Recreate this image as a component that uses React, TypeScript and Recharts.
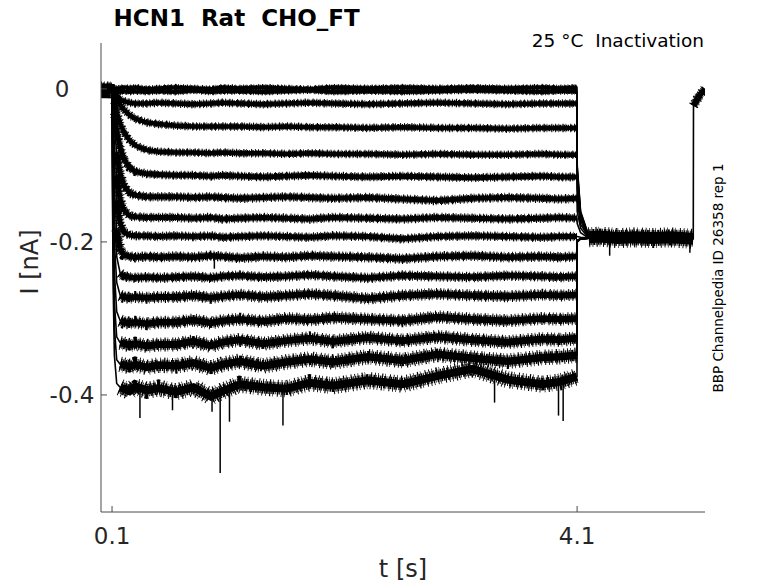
import { LineChart, Line, XAxis, YAxis } from "recharts";

// sample times (s) of the hyperpolarising step, shared by every sweep
const STEP_T = [
  0.1, 0.105, 0.11, 0.12, 0.14, 0.17, 0.2, 0.25, 0.3, 0.4, 0.5, 0.65, 0.8, 0.95, 1.05, 1.2,
  1.4, 1.6, 1.8, 2.0, 2.3, 2.6, 2.9, 3.2, 3.5, 3.8, 3.95, 4.099, 4.101, 4.13, 4.2,
];

// current (nA) of each sweep at STEP_T
const SWEEP_00 = [0.002, 0.002, 0.001, 0.001, 0.0, 0.001, 0.002, 0.001, 0.002, 0.0, 0.001, 0.002, 0.001, 0.0, 0.002, 0.001, 0.002, 0.001, 0.0, 0.002, 0.001, 0.002, 0.001, 0.002, 0.001, 0.002, 0.001, 0.002, -0.1, -0.16, -0.192];
const SWEEP_01 = [0.0, -0.001, -0.002, -0.003, -0.003, -0.004, -0.003, -0.004, -0.003, -0.004, -0.003, -0.004, -0.002, -0.004, -0.003, -0.003, -0.004, -0.003, -0.002, -0.004, -0.003, -0.004, -0.003, -0.002, -0.003, -0.004, -0.003, -0.003, -0.103, -0.162, -0.192];
const SWEEP_02 = [0, -0.002, -0.003, -0.006, -0.01, -0.014, -0.016, -0.018, -0.019, -0.019, -0.018, -0.019, -0.02, -0.019, -0.018, -0.019, -0.02, -0.019, -0.018, -0.019, -0.02, -0.019, -0.018, -0.019, -0.02, -0.019, -0.019, -0.019, -0.108, -0.165, -0.193];
const SWEEP_03 = [0, -0.002, -0.004, -0.007, -0.014, -0.021, -0.027, -0.034, -0.039, -0.044, -0.046, -0.048, -0.049, -0.049, -0.049, -0.049, -0.05, -0.049, -0.05, -0.05, -0.051, -0.05, -0.051, -0.051, -0.052, -0.051, -0.051, -0.051, -0.118, -0.168, -0.193];
const SWEEP_04 = [0, -0.004, -0.009, -0.017, -0.03, -0.045, -0.056, -0.067, -0.074, -0.08, -0.082, -0.083, -0.083, -0.084, -0.083, -0.084, -0.084, -0.085, -0.084, -0.085, -0.085, -0.086, -0.085, -0.086, -0.086, -0.085, -0.086, -0.086, -0.13, -0.172, -0.194];
const SWEEP_05 = [0, -0.009, -0.017, -0.032, -0.055, -0.077, -0.091, -0.103, -0.108, -0.111, -0.112, -0.113, -0.113, -0.114, -0.113, -0.114, -0.115, -0.114, -0.113, -0.114, -0.115, -0.114, -0.115, -0.116, -0.115, -0.114, -0.115, -0.115, -0.145, -0.177, -0.194];
const SWEEP_06 = [0, -0.015, -0.028, -0.051, -0.083, -0.111, -0.126, -0.136, -0.139, -0.141, -0.141, -0.141, -0.142, -0.141, -0.142, -0.143, -0.142, -0.141, -0.142, -0.143, -0.142, -0.144, -0.146, -0.143, -0.142, -0.143, -0.144, -0.143, -0.16, -0.182, -0.195];
const SWEEP_07 = [0, -0.022, -0.042, -0.073, -0.114, -0.145, -0.158, -0.166, -0.167, -0.168, -0.168, -0.168, -0.169, -0.168, -0.17, -0.169, -0.168, -0.169, -0.17, -0.168, -0.169, -0.17, -0.168, -0.169, -0.17, -0.169, -0.168, -0.169, -0.176, -0.188, -0.195];
const SWEEP_08 = [0, -0.031, -0.058, -0.098, -0.146, -0.176, -0.187, -0.191, -0.192, -0.192, -0.193, -0.192, -0.193, -0.192, -0.194, -0.193, -0.192, -0.193, -0.194, -0.192, -0.193, -0.196, -0.193, -0.192, -0.193, -0.194, -0.193, -0.193, -0.193, -0.194, -0.195];
const SWEEP_09 = [0, -0.044, -0.08, -0.131, -0.184, -0.21, -0.217, -0.219, -0.22, -0.219, -0.22, -0.219, -0.22, -0.218, -0.219, -0.221, -0.219, -0.22, -0.218, -0.219, -0.22, -0.222, -0.219, -0.218, -0.22, -0.219, -0.22, -0.219, -0.198, -0.196, -0.195];
const SWEEP_10 = [0, -0.06, -0.105, -0.165, -0.219, -0.241, -0.245, -0.246, -0.247, -0.246, -0.247, -0.246, -0.245, -0.247, -0.245, -0.244, -0.246, -0.245, -0.243, -0.245, -0.247, -0.244, -0.245, -0.246, -0.244, -0.245, -0.246, -0.245, -0.198, -0.196, -0.195];
const SWEEP_11 = [0, -0.077, -0.132, -0.2, -0.253, -0.27, -0.272, -0.273, -0.272, -0.273, -0.272, -0.272, -0.27, -0.273, -0.271, -0.269, -0.272, -0.27, -0.268, -0.27, -0.274, -0.27, -0.268, -0.27, -0.271, -0.269, -0.27, -0.269, -0.198, -0.196, -0.195];
const SWEEP_12 = [0, -0.097, -0.164, -0.239, -0.291, -0.303, -0.305, -0.306, -0.305, -0.307, -0.305, -0.305, -0.302, -0.306, -0.303, -0.301, -0.304, -0.3, -0.302, -0.299, -0.301, -0.303, -0.298, -0.301, -0.303, -0.3, -0.301, -0.3, -0.199, -0.196, -0.195];
const SWEEP_13 = [0, -0.122, -0.199, -0.279, -0.324, -0.332, -0.333, -0.335, -0.333, -0.336, -0.334, -0.334, -0.33, -0.336, -0.331, -0.328, -0.333, -0.329, -0.326, -0.33, -0.325, -0.329, -0.324, -0.328, -0.331, -0.327, -0.328, -0.326, -0.199, -0.196, -0.195];
const SWEEP_14 = [0, -0.141, -0.228, -0.311, -0.354, -0.36, -0.361, -0.363, -0.36, -0.364, -0.361, -0.362, -0.358, -0.365, -0.36, -0.356, -0.362, -0.357, -0.353, -0.357, -0.35, -0.355, -0.347, -0.352, -0.356, -0.351, -0.35, -0.348, -0.2, -0.196, -0.195];
const SWEEP_15 = [0, -0.166, -0.262, -0.348, -0.385, -0.39, -0.392, -0.395, -0.389, -0.394, -0.391, -0.396, -0.39, -0.402, -0.395, -0.386, -0.39, -0.392, -0.384, -0.388, -0.381, -0.386, -0.375, -0.366, -0.38, -0.386, -0.383, -0.376, -0.2, -0.196, -0.195];

const SWEEPS = [
  SWEEP_00, SWEEP_01, SWEEP_02, SWEEP_03, SWEEP_04, SWEEP_05, SWEEP_06, SWEEP_07,
  SWEEP_08, SWEEP_09, SWEEP_10, SWEEP_11, SWEEP_12, SWEEP_13, SWEEP_14, SWEEP_15,
];

// holding period before the step (all sweeps overlap)
const PRE_T = [0.005, 0.04, 0.046, 0.052, 0.1];
const PRE_I = [0.002, 0.002, -0.012, 0.002, 0.002];

// common tail after the step, then back to holding
const TAIL_T = [4.2, 4.3, 4.45, 4.6, 4.75, 4.9, 5.0, 5.099, 5.101, 5.13, 5.16, 5.2];
const TAIL_I = [-0.194, -0.193, -0.195, -0.194, -0.195, -0.194, -0.195, -0.196, -0.022, -0.014, -0.007, 0.0];

// single-sample glitches: time, baseline, peak
const SPIKE_T = [0.34, 0.62, 0.96, 0.98, 1.03, 1.11, 1.57, 3.39, 3.94, 3.98, 4.38, 5.07];
const SPIKE_FROM = [-0.392, -0.39, -0.398, -0.22, -0.398, -0.392, -0.392, -0.382, -0.385, -0.383, -0.198, -0.198];
const SPIKE_TO = [-0.43, -0.42, -0.422, -0.235, -0.502, -0.435, -0.44, -0.41, -0.427, -0.434, -0.218, -0.214];

const X_TICKS = [0.1, 4.1];
const Y_TICKS = [-0.4, -0.2, 0];

const FONT = "DejaVu Sans";
const AXIS_GREY = "#4a4a4a";
const TEXT_GREY = "#262626";

// drawing style per sweep: where the noisy plateau starts, and band widths
const PLATEAU_FROM = [0, 0, 2, 3, 3, 3, 4, 4, 4, 4, 5, 5, 5, 5, 5, 5];
const CORE_WIDTH = [4, 4, 4.5, 4.5, 4.5, 5, 5, 5, 5, 5.5, 5.5, 6, 6.5, 7, 7.5, 8];
const FRINGE_ADD = [3, 3, 4, 4, 4, 4, 4.5, 4.5, 4.5, 5, 5, 6, 6.5, 7, 8, 9];
const DASH_FINE = "1.4 0.7 0.9 1.1 1.8 0.6 0.8 1.4 1.2 0.9";
const DASH_SPARSE = "0.9 2.4 0.7 3.3 1.2 1.9 0.6 4.1 1 2.8";

type Stroke = { data: { t: number; i: number }[]; width: number; dash?: string };

const sweepData = SWEEPS.map((vals) => vals.map((v, k) => ({ t: STEP_T[k], i: v })));
const preData = PRE_T.map((t, k) => ({ t, i: PRE_I[k] }));
const tailData = TAIL_T.map((t, k) => ({ t, i: TAIL_I[k] }));
const spikeData = SPIKE_T.map((t, k) => [
  { t, i: SPIKE_FROM[k] },
  { t, i: SPIKE_TO[k] },
]);

function band(data: { t: number; i: number }[], core: number, fringe: number): Stroke[] {
  return [
    { data, width: core + fringe, dash: DASH_SPARSE },
    { data, width: core + fringe * 0.5, dash: DASH_FINE },
    { data, width: core },
  ];
}

const strokes: Stroke[] = [];
strokes.push(...band(preData, 8, 4));
sweepData.forEach((d, k) => {
  strokes.push({ data: d, width: 1.6 });
  strokes.push(...band(d.slice(PLATEAU_FROM[k], 28), CORE_WIDTH[k], FRINGE_ADD[k]));
});
strokes.push({ data: tailData, width: 1.6 });
strokes.push(...band(tailData.slice(0, 8), 12, 8));
strokes.push(...band(tailData.slice(8), 6, 4));
spikeData.forEach((d) => strokes.push({ data: d, width: 1.5 }));

function XTick(props: any) {
  const { x, y, payload } = props;
  return (
    <g>
      <line x1={x} y1={y} x2={x} y2={y - 6} stroke={AXIS_GREY} />
      <text x={x} y={y + 32} textAnchor="middle" fontFamily={FONT} fontSize={23} fill={TEXT_GREY}>
        {payload.value}
      </text>
    </g>
  );
}

function YTick(props: any) {
  const { x, y, payload } = props;
  const right = payload.value === 0 ? x - 31.5 : x - 6.5;
  return (
    <g>
      <line x1={x} y1={y} x2={x + 6} y2={y} stroke={AXIS_GREY} />
      <text x={right} y={y + 8.5} textAnchor="end" fontFamily={FONT} fontSize={23} fill={TEXT_GREY}>
        {payload.value}
      </text>
    </g>
  );
}

export default function App() {
  return (
    <div style={{ position: "absolute", left: 0, top: 0, width: 778, height: 583, background: "#fff" }}>
      <LineChart width={778} height={583} margin={{ top: 43, right: 73, bottom: 41, left: 41 }}>
        <XAxis
          type="number"
          dataKey="t"
          domain={[0.005, 5.2]}
          ticks={X_TICKS}
          allowDataOverflow
          height={30}
          tickSize={0}
          tickMargin={0}
          tickLine={false}
          tick={XTick}
          axisLine={{ stroke: AXIS_GREY }}
        />
        <YAxis
          type="number"
          domain={[-0.553, 0.06]}
          ticks={Y_TICKS}
          allowDataOverflow
          width={60}
          tickSize={0}
          tickMargin={0}
          tickLine={false}
          tick={YTick}
          axisLine={{ stroke: AXIS_GREY }}
        />
        {strokes.map((s, k) => (
          <Line
            key={k}
            data={s.data}
            dataKey="i"
            stroke="#000"
            strokeWidth={s.width}
            strokeDasharray={s.dash}
            dot={false}
            isAnimationActive={false}
          />
        ))}
      </LineChart>
      <svg
        width={778}
        height={583}
        style={{ position: "absolute", left: 0, top: 0, pointerEvents: "none" }}
      >
        <text x={113.5} y={26} fontFamily={FONT} fontWeight="bold" fontSize={23} fill="#000" style={{ whiteSpace: "pre" }}>
          HCN1  Rat  CHO_FT
        </text>
        <text x={704} y={47} textAnchor="end" fontFamily={FONT} fontSize={18.5} fill="#000" style={{ whiteSpace: "pre" }}>
          25 °C  Inactivation
        </text>
        <text x={403} y={577} textAnchor="middle" fontFamily={FONT} fontSize={24} fill={TEXT_GREY}>
          t [s]
        </text>
        <text
          x={0}
          y={0}
          transform="translate(38 262) rotate(-90)"
          textAnchor="middle"
          fontFamily={FONT}
          fontSize={24}
          fill={TEXT_GREY}
        >
          I [nA]
        </text>
        <text
          x={0}
          y={0}
          transform="translate(723 278) rotate(-90)"
          textAnchor="middle"
          fontFamily={FONT}
          fontSize={13.5}
          fill="#000"
        >
          BBP Channelpedia ID 26358 rep 1
        </text>
      </svg>
    </div>
  );
}
